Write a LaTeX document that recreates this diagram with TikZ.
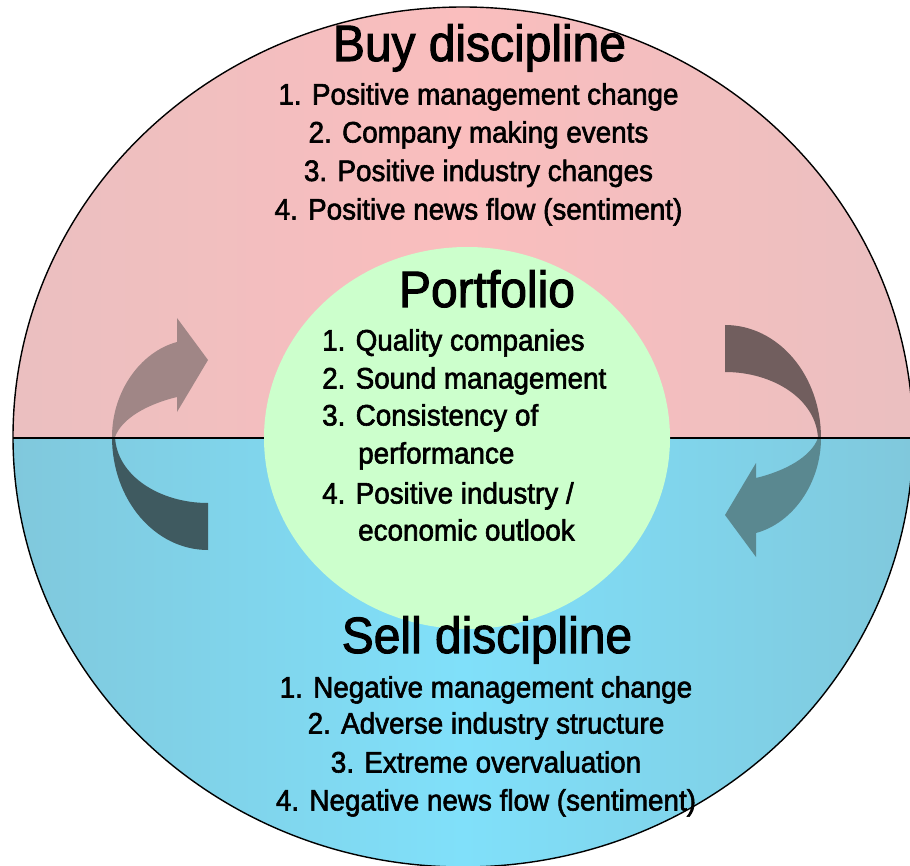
\documentclass[tikz,border=0pt]{standalone}
\usepackage{fontspec}
\setmainfont[FakeStretch=0.94,FakeBold=2]{Liberation Sans}
\definecolor{pinkedge}{HTML}{DBC0C2}
\definecolor{pinkmid}{HTML}{FABEBE}
\definecolor{blueedge}{HTML}{80B0BE}
\definecolor{bluemid}{HTML}{80E0FA}
\definecolor{core}{HTML}{CCFFCC}
\definecolor{arrLU}{HTML}{A08686}
\definecolor{arrLL}{HTML}{3F5A60}
\definecolor{arrRU}{HTML}{715E5E}
\definecolor{arrRL}{HTML}{5A8890}
\pgfdeclarehorizontalshading{pinkband}{100bp}{color(0bp)=(pinkedge); color(50bp)=(pinkmid); color(100bp)=(pinkedge)}
\pgfdeclarehorizontalshading{blueband}{100bp}{color(0bp)=(blueedge); color(50bp)=(bluemid); color(100bp)=(blueedge)}
\begin{document}
\begin{tikzpicture}[x=1pt,y=-1pt,
  title/.style={font=\fontsize{51}{56}\selectfont, anchor=base, inner sep=0pt},
  item/.style={font=\fontsize{29.6}{34}\selectfont, anchor=base, inner sep=0pt},
  pitem/.style={font=\fontsize{29.6}{34}\selectfont, anchor=base west, inner sep=0pt},
]
\useasboundingbox (0,0) rectangle (910,866);
\clip (0,0) rectangle (910,866);

\coordinate (c) at (463,437);

% upper and lower halves of the cycle
\begin{scope}
  \clip (c) ellipse [x radius=450pt, y radius=430pt];
  \shade[shading=pinkband] (13,0) rectangle (913,438);
  \shade[shading=blueband] (13,438) rectangle (913,870);
\end{scope}

% curved arrow on the left (buy side)
\def\leftarrowpath{
  (208,550) .. controls (155,550) and (112,500) .. (112,437)
  .. controls (112,392) and (140,352) .. (177,342)
  -- (177,318) -- (208,360) -- (177,412) -- (177,397)
  .. controls (148,404) and (122,418) .. (115,437)
  .. controls (117,476) and (160,503) .. (208,503) -- cycle}
\begin{scope}
  \clip (0,0) rectangle (455,438);
  \fill[arrLU] \leftarrowpath;
\end{scope}
\begin{scope}
  \clip (0,438) rectangle (455,866);
  \fill[arrLL] \leftarrowpath;
\end{scope}

% curved arrow on the right (sell side), the left one turned half round
\begin{scope}
  \clip (470,0) rectangle (910,438);
  \fill[arrRU, rotate around={180:(466.5,437.5)}] \leftarrowpath;
\end{scope}
\begin{scope}
  \clip (470,438) rectangle (910,866);
  \fill[arrRL, rotate around={180:(466.5,437.5)}] \leftarrowpath;
\end{scope}

% dividing line and outline
\draw[line width=2.4pt] (13,438) -- (913,438);
\draw[line width=1.4pt] (c) ellipse [x radius=450pt, y radius=430pt];

% portfolio core
\fill[core] (467,438) ellipse [x radius=203pt, y radius=191pt];

% buy discipline
\node[title] (buy) at (479.5,61) {Buy discipline};
\node[item] (b1) at (478.5,104.5) {1. Positive management change};
\node[item] (b2) at (478.5,142.5) {2. Company making events};
\node[item] (b3) at (478.5,181) {3. Positive industry changes};
\node[item] (b4) at (478.5,219.5) {4. Positive news flow (sentiment)};

% portfolio
\node[title] (port) at (487,307) {Portfolio};
\node[pitem] (p1) at (322,350.5) {1. Quality companies};
\node[pitem] (p2) at (322,388.5) {2. Sound management};
\node[pitem] (p3) at (322,425.5) {3. Consistency of};
\node[pitem] (p3b) at (358,463.5) {performance};
\node[pitem] (p4) at (322,503.5) {4. Positive industry /};
\node[pitem] (p4b) at (358,540.5) {economic outlook};

% sell discipline
\node[title] (sell) at (487,653) {Sell discipline};
\node[item] (s1) at (486,697.5) {1. Negative management change};
\node[item] (s2) at (486,733.5) {2. Adverse industry structure};
\node[item] (s3) at (486,772.5) {3. Extreme overvaluation};
\node[item] (s4) at (486,810.5) {4. Negative news flow (sentiment)};
\end{tikzpicture}
\end{document}
